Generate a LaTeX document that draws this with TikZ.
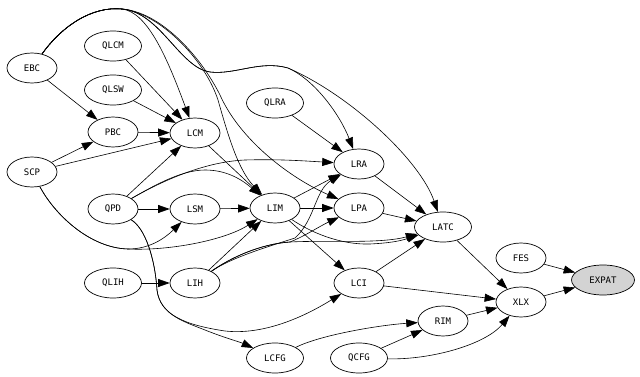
\documentclass[tikz,border=0pt]{standalone}
\usepackage{fontspec}
\setmonofont{DejaVu Sans Mono}
\usetikzlibrary{arrows.meta,shapes.geometric}
\definecolor{lgray}{HTML}{D3D3D3}

\begin{document}
\begin{tikzpicture}[
	x=1pt, y=-1pt,
	line cap=round,
	line join=round,
	every node/.style={font=\ttfamily\fontsize{9}{10}\selectfont},
	mod/.style={ellipse, draw, line width=0.7pt, inner sep=0pt, minimum width=50pt, minimum height=30pt},
	wide/.style={mod, minimum width=57pt},
	dep/.style={-{Triangle[length=11.5pt,width=8pt]}, line width=0.6pt}
	]
	
	\useasboundingbox (0,0) rectangle (640,377);
	
	% modules
	\node[mod] (EBC) at (32,68) {EBC};
	\node[wide] (QLCM) at (113,46) {QLCM};
	\node[wide] (QLSW) at (113,90) {QLSW};
	\node[mod] (PBC) at (113,132) {PBC};
	\node[mod] (LCM) at (195,133) {LCM};
	\node[mod] (SCP) at (32,172) {SCP};
	\node[mod] (QPD) at (113,209) {QPD};
	\node[mod] (LSM) at (195,209) {LSM};
	\node[wide] (QLIH) at (113,283) {QLIH};
	\node[mod] (LIH) at (195,283) {LIH};
	\node[wide] (QLRA) at (275,103) {QLRA};
	\node[mod] (LIM) at (275,208) {LIM};
	\node[mod] (LRA) at (359,164) {LRA};
	\node[mod] (LPA) at (359,208) {LPA};
	\node[mod] (LCI) at (359,283) {LCI};
	\node[wide] (LCFG) at (275,358) {LCFG};
	\node[wide] (QCFG) at (359,358) {QCFG};
	\node[wide] (LATC) at (443,227) {LATC};
	\node[mod] (RIM) at (443,321) {RIM};
	\node[mod] (FES) at (521,258) {FES};
	\node[mod] (XLX) at (521,302) {XLX};
	\node[mod, minimum width=63pt, fill=lgray] (EXPAT) at (603,280) {EXPAT};
	
	% EBC, over the top
	\draw[dep] (EBC) -- (PBC);
	\draw[dep] (EBC) .. controls (62,26) and (92,6) .. (122,9) .. controls (148,12) and (168,60) .. (LCM);
	\draw[dep] (EBC) .. controls (62,26) and (92,6) .. (122,9) .. controls (160,13) and (205,60) .. (218,100) .. controls (228,135) and (238,170) .. (LIM);
	\draw[dep] (EBC) .. controls (62,26) and (92,6) .. (122,9) .. controls (160,12) and (200,55) .. (220,95) .. controls (240,140) and (290,178) .. (LPA);
	\draw[dep] (EBC) .. controls (62,26) and (92,6) .. (122,9) .. controls (160,12) and (180,68) .. (210,72) .. controls (235,75) and (260,60) .. (288,68) .. controls (315,80) and (340,115) .. (LRA);
	\draw[dep] (EBC) .. controls (62,26) and (92,6) .. (122,9) .. controls (160,12) and (180,68) .. (210,72) .. controls (235,75) and (260,60) .. (288,68) .. controls (350,95) and (420,160) .. (LATC);
	
	% into LCM
	\draw[dep] (QLCM) -- (LCM);
	\draw[dep] (QLSW) -- (LCM);
	\draw[dep] (PBC) -- (LCM);
	\draw[dep] (SCP) -- (PBC);
	\draw[dep] (SCP) -- (LCM);
	\draw[dep] (QPD) -- (LCM);
	
	% SCP, QPD
	\draw[dep] (SCP) .. controls (55,215) and (90,248) .. (128,249) .. controls (150,249) and (165,238) .. (LSM);
	\draw[dep] (SCP) .. controls (55,215) and (90,248) .. (128,249) .. controls (170,251) and (225,240) .. (LIM);
	\draw[dep] (QPD) -- (LSM);
	\draw[dep] (QPD) .. controls (155,185) and (200,162) .. (245,160) .. controls (280,159) and (305,161) .. (LRA);
	\draw[dep] (QPD) .. controls (150,188) and (180,170) .. (205,170) .. controls (225,170) and (240,178) .. (LIM);
	\draw[dep] (QPD) .. controls (145,228) and (155,258) .. (157,290) .. controls (160,315) and (185,325) .. (225,331) .. controls (270,336) and (315,310) .. (LCI);
	\draw[dep] (QPD) .. controls (145,228) and (155,258) .. (157,290) .. controls (160,315) and (185,322) .. (205,330) .. controls (225,338) and (240,342) .. (LCFG);
	
	% into LIM
	\draw[dep] (LCM) -- (LIM);
	\draw[dep] (LSM) -- (LIM);
	\draw[dep] (QLIH) -- (LIH);
	\draw[dep] (LIH) -- (LIM);
	
	% LIH
	\draw[dep] (LIH) .. controls (230,258) and (260,244) .. (290,242) .. controls (330,240) and (380,244) .. (LATC);
	\draw[dep] (LIH) .. controls (230,258) and (260,244) .. (290,242) .. controls (305,236) and (320,226) .. (LPA);
	\draw[dep] (LIH) .. controls (230,258) and (270,246) .. (295,238) .. controls (315,220) and (315,190) .. (LRA);
	
	% LIM
	\draw[dep] (LIM) -- (LRA);
	\draw[dep] (LIM) -- (LPA);
	\draw[dep] (LIM) -- (LCI);
	\draw[dep] (LIM) .. controls (310,232) and (340,245) .. (370,244) .. controls (390,243) and (400,241) .. (LATC);
	
	% into LATC, XLX
	\draw[dep] (QLRA) -- (LRA);
	\draw[dep] (LRA) -- (LATC);
	\draw[dep] (LPA) -- (LATC);
	\draw[dep] (LCI) -- (LATC);
	\draw[dep] (LCI) -- (XLX);
	\draw[dep] (LATC) -- (XLX);
	\draw[dep] (LCFG) .. controls (320,335) and (380,325) .. (RIM);
	\draw[dep] (QCFG) -- (RIM);
	\draw[dep] (QCFG) .. controls (430,360) and (485,345) .. (XLX);
	\draw[dep] (RIM) -- (XLX);
	\draw[dep] (FES) -- (EXPAT);
	\draw[dep] (XLX) -- (EXPAT);
	
\end{tikzpicture}
\end{document}
